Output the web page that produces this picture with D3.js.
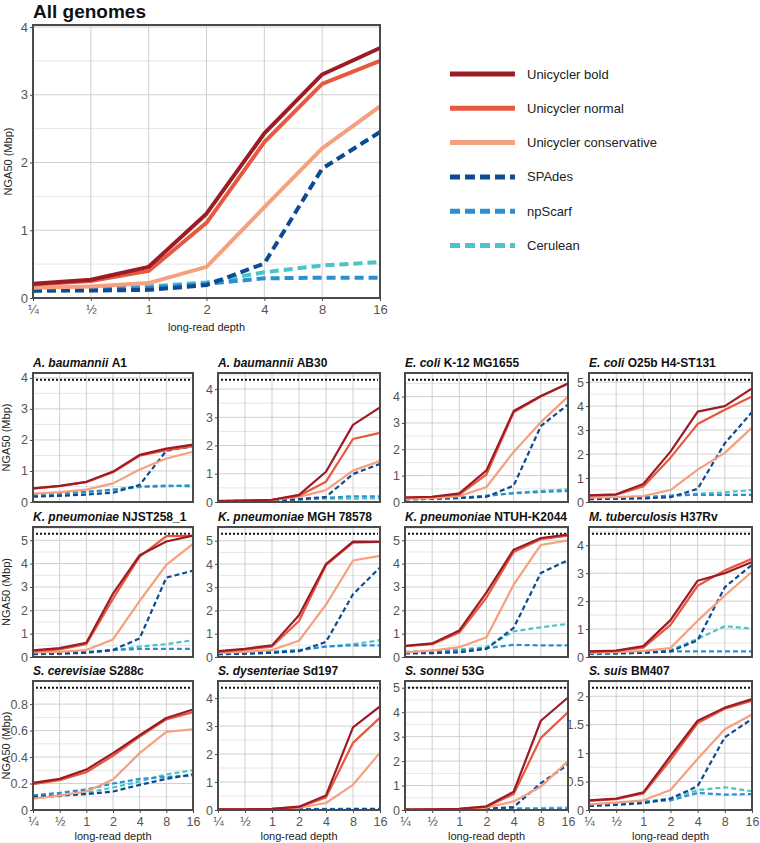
<!DOCTYPE html>
<html><head><meta charset="utf-8">
<script src="https://cdn.jsdelivr.net/npm/d3@7"></script>
<style>body{margin:0;background:#fff}svg{font-family:"Liberation Sans",Arial,sans-serif}</style>
</head><body>
<script>
const depths = ["¼","½","1","2","4","8","16"];
const seriesNames = ["Unicycler bold","Unicycler normal","Unicycler conservative","SPAdes","npScarf","Cerulean"];
const seriesColors = ["#9b1c24","#e8573f","#f5a07e","#0d4a94","#2a90d0","#4cc3c6"];
const seriesDashed = [false,false,false,true,true,true];

const allGenomes = [
  [0.21,0.27,0.46,1.245,2.43,3.30,3.69],
  [0.20,0.25,0.40,1.11,2.30,3.16,3.50],
  [0.15,0.17,0.22,0.46,1.34,2.21,2.83],
  [0.11,0.11,0.12,0.19,0.51,1.91,2.45],
  [0.12,0.13,0.15,0.21,0.29,0.30,0.30],
  [0.10,0.13,0.17,0.23,0.38,0.48,0.53]
];

const genomeNames = [
  ["A. baumannii","A1"],["A. baumannii","AB30"],["E. coli","K-12 MG1655"],["E. coli","O25b H4-ST131"],
  ["K. pneumoniae","NJST258_1"],["K. pneumoniae","MGH 78578"],["K. pneumoniae","NTUH-K2044"],["M. tuberculosis","H37Rv"],
  ["S. cerevisiae","S288c"],["S. dysenteriae","Sd197"],["S. sonnei","53G"],["S. suis","BM407"]
];
const referenceN50 = [3.94,4.33,4.64,5.10,5.28,5.30,5.28,4.41,0.924,4.37,5.00,2.15];
const yMajorStep = [1,1,1,1,1,1,1,1,0.2,1,1,0.5];

const genomeData = [
  [[0.44,0.52,0.65,0.98,1.52,1.72,1.85],[0.43,0.51,0.64,0.96,1.49,1.67,1.80],[0.27,0.32,0.40,0.60,1.05,1.40,1.62],[0.17,0.20,0.24,0.30,0.55,1.65,1.80],[0.22,0.27,0.33,0.40,0.50,0.53,0.50],[0.22,0.25,0.32,0.38,0.48,0.50,0.55]],
  [[0.03,0.05,0.08,0.25,1.07,2.73,3.35],[0.03,0.05,0.08,0.22,0.72,2.23,2.45],[0.02,0.04,0.07,0.18,0.42,1.11,1.45],[0.02,0.03,0.05,0.10,0.18,0.99,1.35],[0.04,0.05,0.07,0.10,0.15,0.20,0.20],[0.03,0.04,0.06,0.08,0.12,0.12,0.13]],
  [[0.17,0.20,0.33,1.20,3.45,4.02,4.50],[0.17,0.20,0.28,1.05,3.40,4.00,4.50],[0.12,0.15,0.22,0.57,1.90,3.03,4.00],[0.10,0.12,0.15,0.20,0.62,2.88,3.70],[0.12,0.14,0.16,0.24,0.33,0.38,0.42],[0.10,0.12,0.15,0.22,0.35,0.42,0.48]],
  [[0.28,0.32,0.75,2.10,3.77,4.00,4.74],[0.27,0.30,0.65,1.85,3.25,3.85,4.40],[0.18,0.20,0.25,0.50,1.35,2.05,3.10],[0.12,0.13,0.15,0.20,0.55,2.45,3.75],[0.15,0.17,0.20,0.27,0.30,0.30,0.30],[0.14,0.16,0.20,0.25,0.35,0.40,0.50]],
  [[0.28,0.38,0.61,2.72,4.36,4.95,5.20],[0.25,0.33,0.55,2.50,4.30,5.18,5.20],[0.20,0.22,0.30,0.75,2.40,3.95,4.85],[0.12,0.14,0.18,0.30,0.80,3.40,3.70],[0.15,0.18,0.22,0.30,0.35,0.35,0.35],[0.13,0.16,0.20,0.28,0.45,0.55,0.72]],
  [[0.25,0.35,0.50,1.80,4.00,4.96,4.95],[0.22,0.32,0.45,1.55,3.95,4.92,4.95],[0.18,0.22,0.30,0.70,2.25,4.15,4.35],[0.12,0.14,0.18,0.25,0.65,2.70,3.85],[0.15,0.18,0.22,0.30,0.45,0.50,0.50],[0.12,0.16,0.20,0.28,0.45,0.55,0.72]],
  [[0.48,0.58,1.14,2.77,4.60,5.10,5.25],[0.46,0.55,1.05,2.55,4.50,5.05,5.20],[0.20,0.27,0.42,0.85,3.10,4.80,5.00],[0.15,0.17,0.20,0.35,1.25,3.60,4.15],[0.20,0.22,0.27,0.38,0.52,0.50,0.50],[0.22,0.27,0.32,0.42,1.10,1.27,1.42]],
  [[0.20,0.23,0.39,1.32,2.73,3.00,3.40],[0.18,0.22,0.33,1.15,2.55,3.10,3.52],[0.15,0.17,0.22,0.32,1.30,2.20,3.05],[0.12,0.13,0.15,0.20,0.60,2.50,3.30],[0.13,0.15,0.17,0.20,0.20,0.20,0.20],[0.10,0.12,0.15,0.25,0.65,1.10,1.02]],
  [[0.205,0.235,0.305,0.43,0.565,0.695,0.76],[0.195,0.225,0.285,0.41,0.555,0.685,0.74],[0.085,0.11,0.14,0.23,0.43,0.59,0.61],[0.10,0.11,0.12,0.14,0.19,0.235,0.27],[0.11,0.13,0.155,0.20,0.235,0.25,0.26],[0.09,0.105,0.13,0.17,0.215,0.27,0.30]],
  [[0.02,0.02,0.04,0.12,0.52,2.95,3.70],[0.02,0.02,0.04,0.10,0.45,2.40,3.30],[0.01,0.02,0.03,0.08,0.25,0.90,2.05],[0.01,0.01,0.01,0.02,0.02,0.03,0.03],[0.01,0.01,0.02,0.02,0.03,0.03,0.03],[0.02,0.03,0.03,0.04,0.04,0.05,0.05]],
  [[0.02,0.03,0.05,0.15,0.75,3.65,4.60],[0.02,0.03,0.05,0.13,0.65,2.95,4.00],[0.01,0.02,0.04,0.10,0.35,0.95,2.00],[0.01,0.01,0.02,0.05,0.12,1.10,1.85],[0.01,0.01,0.02,0.03,0.04,0.04,0.05],[0.02,0.03,0.04,0.05,0.08,0.08,0.10]],
  [[0.17,0.20,0.31,0.95,1.57,1.80,1.95],[0.16,0.19,0.29,0.88,1.53,1.78,1.92],[0.10,0.13,0.17,0.35,0.90,1.42,1.68],[0.07,0.09,0.12,0.20,0.42,1.28,1.60],[0.09,0.11,0.14,0.17,0.30,0.27,0.28],[0.10,0.12,0.15,0.20,0.35,0.40,0.33]]
];

const W = 760, H = 843;
const svg = d3.select("body").append("svg").attr("width", W).attr("height", H);

function drawPanel(g, o) {
  const x = d3.scalePoint().domain(depths).range([o.x0, o.x1]);
  const y = d3.scaleLinear().domain([0, o.ymax]).range([o.y1, o.y0]);
  const minor = o.major / 2;
  const nMinor = Math.floor(o.ymax / minor + 1e-9);
  const minorVals = d3.range(0, nMinor + 1).map(i => +(i * minor).toFixed(6));
  g.append("g").selectAll("line").data(minorVals.filter((v, i) => i % 2 === 1)).join("line")
    .attr("x1", o.x0).attr("x2", o.x1).attr("y1", d => y(d)).attr("y2", d => y(d))
    .attr("stroke", "#e6e6e6").attr("stroke-width", 1);
  const majorVals = minorVals.filter((v, i) => i % 2 === 0);
  g.append("g").selectAll("line").data(majorVals).join("line")
    .attr("x1", o.x0).attr("x2", o.x1).attr("y1", d => y(d)).attr("y2", d => y(d))
    .attr("stroke", "#cfcfcf").attr("stroke-width", 1);
  g.append("g").selectAll("line").data(depths).join("line")
    .attr("x1", d => x(d)).attr("x2", d => x(d)).attr("y1", o.y0).attr("y2", o.y1)
    .attr("stroke", "#cfcfcf").attr("stroke-width", 1);
  if (o.refLine != null) {
    g.append("line").attr("x1", o.x0 + 3).attr("x2", o.x1 - 2)
      .attr("y1", y(o.refLine)).attr("y2", y(o.refLine))
      .attr("stroke", "#111").attr("stroke-width", 2).attr("stroke-dasharray", "2,2");
  }
  const line = d3.line().x((d, i) => x(depths[i])).y(d => y(d));
  for (let s = seriesNames.length - 1; s >= 0; s--) {
    g.append("path").datum(o.data[s]).attr("d", line)
      .attr("fill", "none").attr("stroke", seriesColors[s]).attr("stroke-width", o.lw)
      .attr("stroke-linejoin", "round")
      .attr("stroke-dasharray", seriesDashed[s] ? o.dash : null);
  }
  g.append("rect").attr("x", o.x0).attr("y", o.y0).attr("width", o.x1 - o.x0).attr("height", o.y1 - o.y0)
    .attr("fill", "none").attr("stroke", "#4a4a4a").attr("stroke-width", 2);
  const yAxis = d3.axisLeft(y).tickValues(majorVals).tickSize(3).tickPadding(2)
    .tickFormat(d => d3.format("~g")(d));
  const ya = g.append("g").attr("transform", `translate(${o.x0},0)`).call(yAxis);
  ya.select(".domain").remove();
  ya.selectAll("line").attr("stroke", "#4a4a4a");
  ya.selectAll("text").attr("fill", "#555").style("font-size", o.fontTick + "px")
    .style("font-family", "'Liberation Sans',Arial,sans-serif");
  if (o.showX) {
    const xAxis = d3.axisBottom(x).tickSize(3).tickPadding(4);
    const xa = g.append("g").attr("transform", `translate(0,${o.y1})`).call(xAxis);
    xa.select(".domain").remove();
    xa.selectAll("line").attr("stroke", "#4a4a4a");
    xa.selectAll("text").attr("fill", "#555").style("font-size", o.fontTick + "px")
      .style("font-family", "'Liberation Sans',Arial,sans-serif");
    g.append("text").attr("x", (o.x0 + o.x1) / 2).attr("y", o.y1 + o.xLabelDy)
      .attr("text-anchor", "middle").attr("fill", "#222").style("font-size", "11px").text("long-read depth");
  }
  if (o.yLabel) {
    g.append("text").attr("transform", `translate(${o.yLabelX},${(o.y0 + o.y1) / 2}) rotate(-90)`)
      .attr("text-anchor", "middle").attr("fill", "#222").style("font-size", "11px").text("NGA50 (Mbp)");
  }
}

const mainG = svg.append("g");
mainG.append("text").attr("x", 33).attr("y", 18).style("font-size", "19px").style("font-weight", "bold")
  .attr("fill", "#111").text("All genomes");
drawPanel(mainG, {x0: 33, x1: 380, y0: 25, y1: 298, ymax: 4.03, major: 1, data: allGenomes, lw: 4,
  dash: "9,5", refLine: null, showX: true, fontTick: 13, xLabelDy: 33, yLabel: true, yLabelX: 12});

const leg = svg.append("g");
seriesNames.forEach((n, i) => {
  const yy = 74 + i * 34.3;
  leg.append("line").attr("x1", 450).attr("x2", 515).attr("y1", yy).attr("y2", yy)
    .attr("stroke", seriesColors[i]).attr("stroke-width", 5)
    .attr("stroke-dasharray", seriesDashed[i] ? "10,5" : null);
  leg.append("text").attr("x", 527).attr("y", yy + 4.5).style("font-size", "13px").attr("fill", "#222").text(n);
});

const colX = [[33,193],[218,380],[405,568],[589,752]];
const rowY = [[373,502],[527,657],[681,810]];
genomeNames.forEach((nm, k) => {
  const r = Math.floor(k / 4), c = k % 4;
  const g = svg.append("g");
  const [x0, x1] = colX[c], [y0, y1] = rowY[r];
  const t = g.append("text").attr("x", x0).attr("y", y0 - 6).style("font-size", "12px")
    .style("font-weight", "bold").attr("fill", "#111");
  t.append("tspan").style("font-style", "italic").text(nm[0] + " ");
  t.append("tspan").text(nm[1]);
  drawPanel(g, {x0, x1, y0, y1, ymax: referenceN50[k] * 1.055, major: yMajorStep[k], data: genomeData[k],
    lw: 2.2, dash: "5,3", refLine: referenceN50[k], showX: r === 2, fontTick: 12.5, xLabelDy: 30,
    yLabel: c === 0, yLabelX: 10});
});
</script>
</body></html>
